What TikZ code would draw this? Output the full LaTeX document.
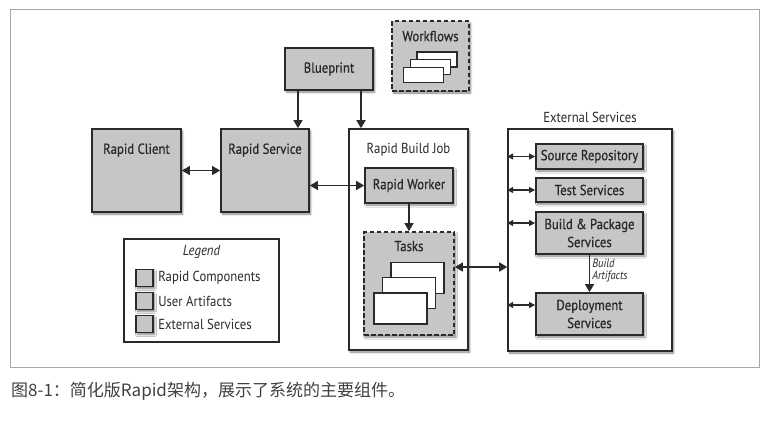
\documentclass[tikz,border=0pt]{standalone}
\usepackage{fontspec}
\setmainfont{PT Sans}[FakeStretch=0.88]
\newfontface\compfont{PT Sans}[FakeStretch=0.88,FakeBold=0.7]
\newfontfamily\cjkfont{Noto Sans CJK SC}
\usetikzlibrary{arrows.meta,shadows.blur}
\definecolor{boxgray}{HTML}{C6C6C6}
\definecolor{inkgray}{HTML}{2A2A2A}
\definecolor{framegray}{HTML}{A8A8A8}

\begin{document}
\begin{tikzpicture}[x=1pt,y=-1pt,>={Triangle[width=9pt,length=8pt]},
    every node/.style={font=\fontsize{14.5}{18}\selectfont,text=inkgray},
    shade box/.style={blur shadow={shadow xshift=1.5pt,shadow yshift=-2pt,shadow blur steps=6,shadow opacity=50}},
    comp/.style={rectangle,draw=inkgray,line width=1.8pt,fill=boxgray,inner sep=0pt,shade box,font=\compfont\fontsize{14.5}{18}\selectfont},
    user/.style={comp,dash pattern=on 4.5pt off 2.5pt},
    group/.style={rectangle,draw=inkgray,line width=1.6pt,fill=white,inner sep=0pt,shade box},
    sheet/.style={rectangle,draw=inkgray,line width=1.4pt,fill=white,inner sep=0pt},
    key/.style={comp,line width=1.5pt,minimum size=17pt},
    link/.style={<->,line width=1.6pt,draw=inkgray},
    small link/.style={{Triangle[width=6pt,length=6pt]}-{Triangle[width=6pt,length=6pt]},line width=1.3pt,draw=inkgray},
    feed/.style={->,line width=1.6pt,draw=inkgray}]
    \useasboundingbox (0,0) rectangle (769,421);
    \node[draw=framegray,line width=0.8pt,minimum width=749pt,minimum height=358pt,inner sep=0pt] (frame) at (384.5,188) {};

    % rapid components
    \node[comp,minimum width=89pt,minimum height=83pt,label={[anchor=center,yshift=-22pt,font=\compfont\fontsize{14.5}{18}\selectfont]north:Rapid Client}] (client) at (136.5,170.5) {};
    \node[comp,minimum width=88pt,minimum height=83pt,label={[anchor=center,yshift=-22pt,font=\compfont\fontsize{14.5}{18}\selectfont]north:Rapid Service}] (service) at (265,170.5) {};
    \node[comp,minimum width=88pt,minimum height=42pt] (blueprint) at (329,69) {Blueprint};

    % user artifacts
    \node[user,minimum width=77pt,minimum height=70pt,label={[anchor=center,yshift=-16pt,font=\compfont\fontsize{14.5}{18}\selectfont]north:Workflows}] (workflows) at (430.5,56) {};
    \node[sheet,minimum width=40pt,minimum height=15pt] (wf3) at (437,59.5) {};
    \node[sheet,minimum width=40pt,minimum height=15pt] (wf2) at (430.5,67) {};
    \node[sheet,minimum width=40pt,minimum height=15pt] (wf1) at (423.5,75) {};

    % build job
    \node[group,minimum width=119pt,minimum height=221pt,label={[anchor=center,yshift=-22pt]north:Rapid Build Job}] (buildjob) at (408.5,239.5) {};
    \node[comp,minimum width=88pt,minimum height=35pt] (worker) at (409,185.5) {Rapid Worker};
    \node[user,minimum width=90pt,minimum height=103pt,label={[anchor=center,yshift=-15pt,font=\compfont\fontsize{14.5}{18}\selectfont]north:Tasks}] (tasks) at (409,283.5) {};
    \node[sheet,minimum width=53pt,minimum height=31pt] (task3) at (417.5,278) {};
    \node[sheet,minimum width=53pt,minimum height=31pt] (task2) at (409,293) {};
    \node[sheet,minimum width=53pt,minimum height=31pt] (task1) at (400.5,308.5) {};

    % external services
    \node[group,minimum width=164pt,minimum height=222pt,label={[anchor=center,yshift=11pt]north:External Services}] (extbox) at (590,240) {};
    \node[comp,minimum width=107pt,minimum height=25pt] (source) at (589.5,156.5) {Source Repository};
    \node[comp,minimum width=107pt,minimum height=24pt] (test) at (589.5,190) {Test Services};
    \node[comp,minimum width=107pt,minimum height=42pt,align=center] (package) at (589.5,233) {Build \& Package\\Services};
    \node[comp,minimum width=107pt,minimum height=42pt,align=center] (deploy) at (589.5,314) {Deployment\\Services};

    % legend
    \node[group,minimum width=155pt,minimum height=103pt,blur shadow={shadow opacity=0},label={[anchor=center,yshift=-14pt,font=\itshape\fontsize{14.5}{18}\selectfont]north:Legend}] (legend) at (201.5,290.5) {};
    \node[key,label={[label distance=1pt]right:Rapid Components}] (key1) at (144.5,278) {};
    \node[key,label={[label distance=1pt]right:User Artifacts}] (key2) at (144.5,301) {};
    \node[key,label={[label distance=1pt]right:External Services}] (key3) at (144.5,324) {};

    % connectors
    \draw[link] (client) -- (service);
    \draw[link] (worker.west -| service.east) -- (worker.west);
    \draw[link] ([yshift=16.5pt]tasks.east) -- ([yshift=16.5pt]tasks.east -| extbox.west);
    \draw[feed] ([xshift=-31pt]blueprint.south) -- ([xshift=-31pt]blueprint.south |- service.north);
    \draw[feed] ([xshift=32pt]blueprint.south) -- ([xshift=32pt]blueprint.south |- buildjob.north);
    \draw[feed] (worker) -- (tasks);
    \draw[feed] (package) -- node[right,pos=0.42,align=left,inner sep=2pt,font=\itshape\fontsize{12}{12}\selectfont]{Build\\Artifacts} (deploy);
    \draw[small link] (source.west -| extbox.west) -- (source.west);
    \draw[small link] (test.west -| extbox.west) -- (test.west);
    \draw[small link] ([yshift=10pt]package.west -| extbox.west) -- ([yshift=10pt]package.west);
    \draw[small link] ([yshift=9pt]deploy.west -| extbox.west) -- ([yshift=9pt]deploy.west);

    \node[anchor=west,inner sep=0pt,font=\cjkfont\fontsize{17}{18}\selectfont,text=black!75] (caption) at (11,391) {图8-1：简化版Rapid架构，展示了系统的主要组件。};
\end{tikzpicture}
\end{document}
